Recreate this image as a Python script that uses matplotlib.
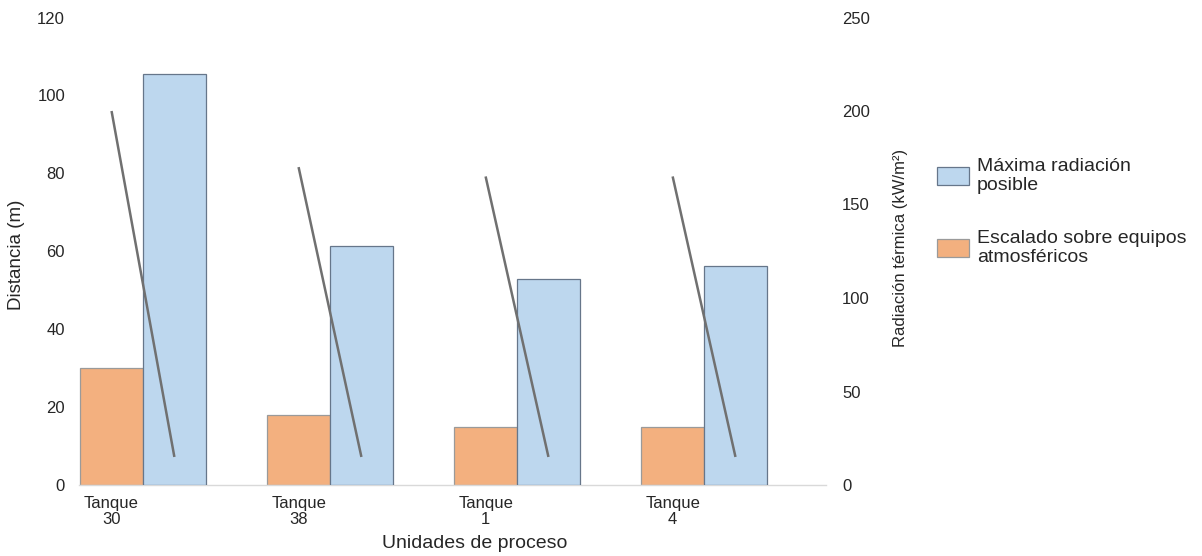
import matplotlib
matplotlib.use("Agg")
import matplotlib.pyplot as plt
from matplotlib.patches import Rectangle
import numpy as np

plt.rcParams['font.family'] = ['Liberation Sans', 'DejaVu Sans']

# Data
tanques = ["Tanque\n30", "Tanque\n38", "Tanque\n1", "Tanque\n4"]
escalado_m = [30, 18, 15, 15]              # distance (m), left axis
radiacion_max = [220, 128, 110, 117]       # kW/m², right axis
linea_inicio = [200, 170, 165, 165]        # kW/m², right axis
linea_fin = [15, 15, 15, 15]               # kW/m², right axis

label_max = "Máxima radiación\nposible"
label_esc = "Escalado sobre equipos\natmosféricos"

# Styles
c_orange = "#F3B07F"
c_blue = "#BDD7EE"
c_text = "#262626"
W, H = 1202, 556

fig = plt.figure(figsize=(W / 100, H / 100), dpi=100)
ax = fig.add_axes([79 / W, 1 - 485 / H, (826 - 79) / W, (485 - 17.5) / H])
ax2 = ax.twinx()

x = np.arange(len(tanques))
w = 0.336

ax.bar(x - w / 2, escalado_m, width=w, color=c_orange, edgecolor="#9a9a9a",
       linewidth=0.9, zorder=2)
ax2.bar(x + w / 2, radiacion_max, width=w, color=c_blue, edgecolor="#66768a",
        linewidth=0.9, zorder=2)
for xi, y0, y1 in zip(x, linea_inicio, linea_fin):
    ax2.plot([xi - w / 2, xi + w / 2], [y0, y1], color="#707070", lw=1.8,
             solid_capstyle="butt", zorder=3)

ax.set_xlim(-0.342, 3.652)
ax.set_ylim(0, 120)
ax2.set_ylim(0, 250)
ax.set_yticks(np.arange(0, 121, 20))
ax2.set_yticks(np.arange(0, 251, 50))
ax.set_xticks(x - w / 2)
ax.set_xticklabels(tanques, fontsize=12, linespacing=1.1, color=c_text)

for a in (ax, ax2):
    for s in ("top", "left", "right"):
        a.spines[s].set_visible(False)
    a.spines["bottom"].set_color("#d9d9d9")
    a.spines["bottom"].set_linewidth(1.0)
ax2.spines["bottom"].set_visible(False)

ax.tick_params(axis="x", length=0, pad=8)
ax.tick_params(axis="y", length=0, pad=10, labelsize=12, labelcolor=c_text)
ax2.tick_params(axis="y", length=0, pad=11.5, labelsize=12, labelcolor=c_text)

ax.set_ylabel("Distancia (m)", fontsize=13.5, color=c_text, va="center")
ax2.set_ylabel("Radiación térmica (kW/m²)", fontsize=12, color=c_text, va="center")
ax.set_xlabel("Unidades de proceso", fontsize=14, color=c_text, va="center")
ax.xaxis.set_label_coords((475 - 79) / 747, (485 - 543) / 467.5)
ax.yaxis.set_label_coords((17 - 79) / 747, (485 - 255) / 467.5)
ax2.yaxis.set_label_coords((900 - 79) / 747, (485 - 248) / 467.5)

# Legend
entries = [(label_max, c_blue, "#66768a", 176), (label_esc, c_orange, "#9a9a9a", 248)]
for lab, fc, ec, yc in entries:
    fig.patches.append(Rectangle((937 / W, 1 - (yc + 9) / H), 32 / W, 18 / H,
                                 facecolor=fc, edgecolor=ec, linewidth=0.9,
                                 transform=fig.transFigure, figure=fig))
    fig.text(977 / W, 1 - yc / H, lab, fontsize=14, color=c_text,
             va="center", ha="left", linespacing=1.2)

fig.savefig("out.png", dpi=100, facecolor="white")
